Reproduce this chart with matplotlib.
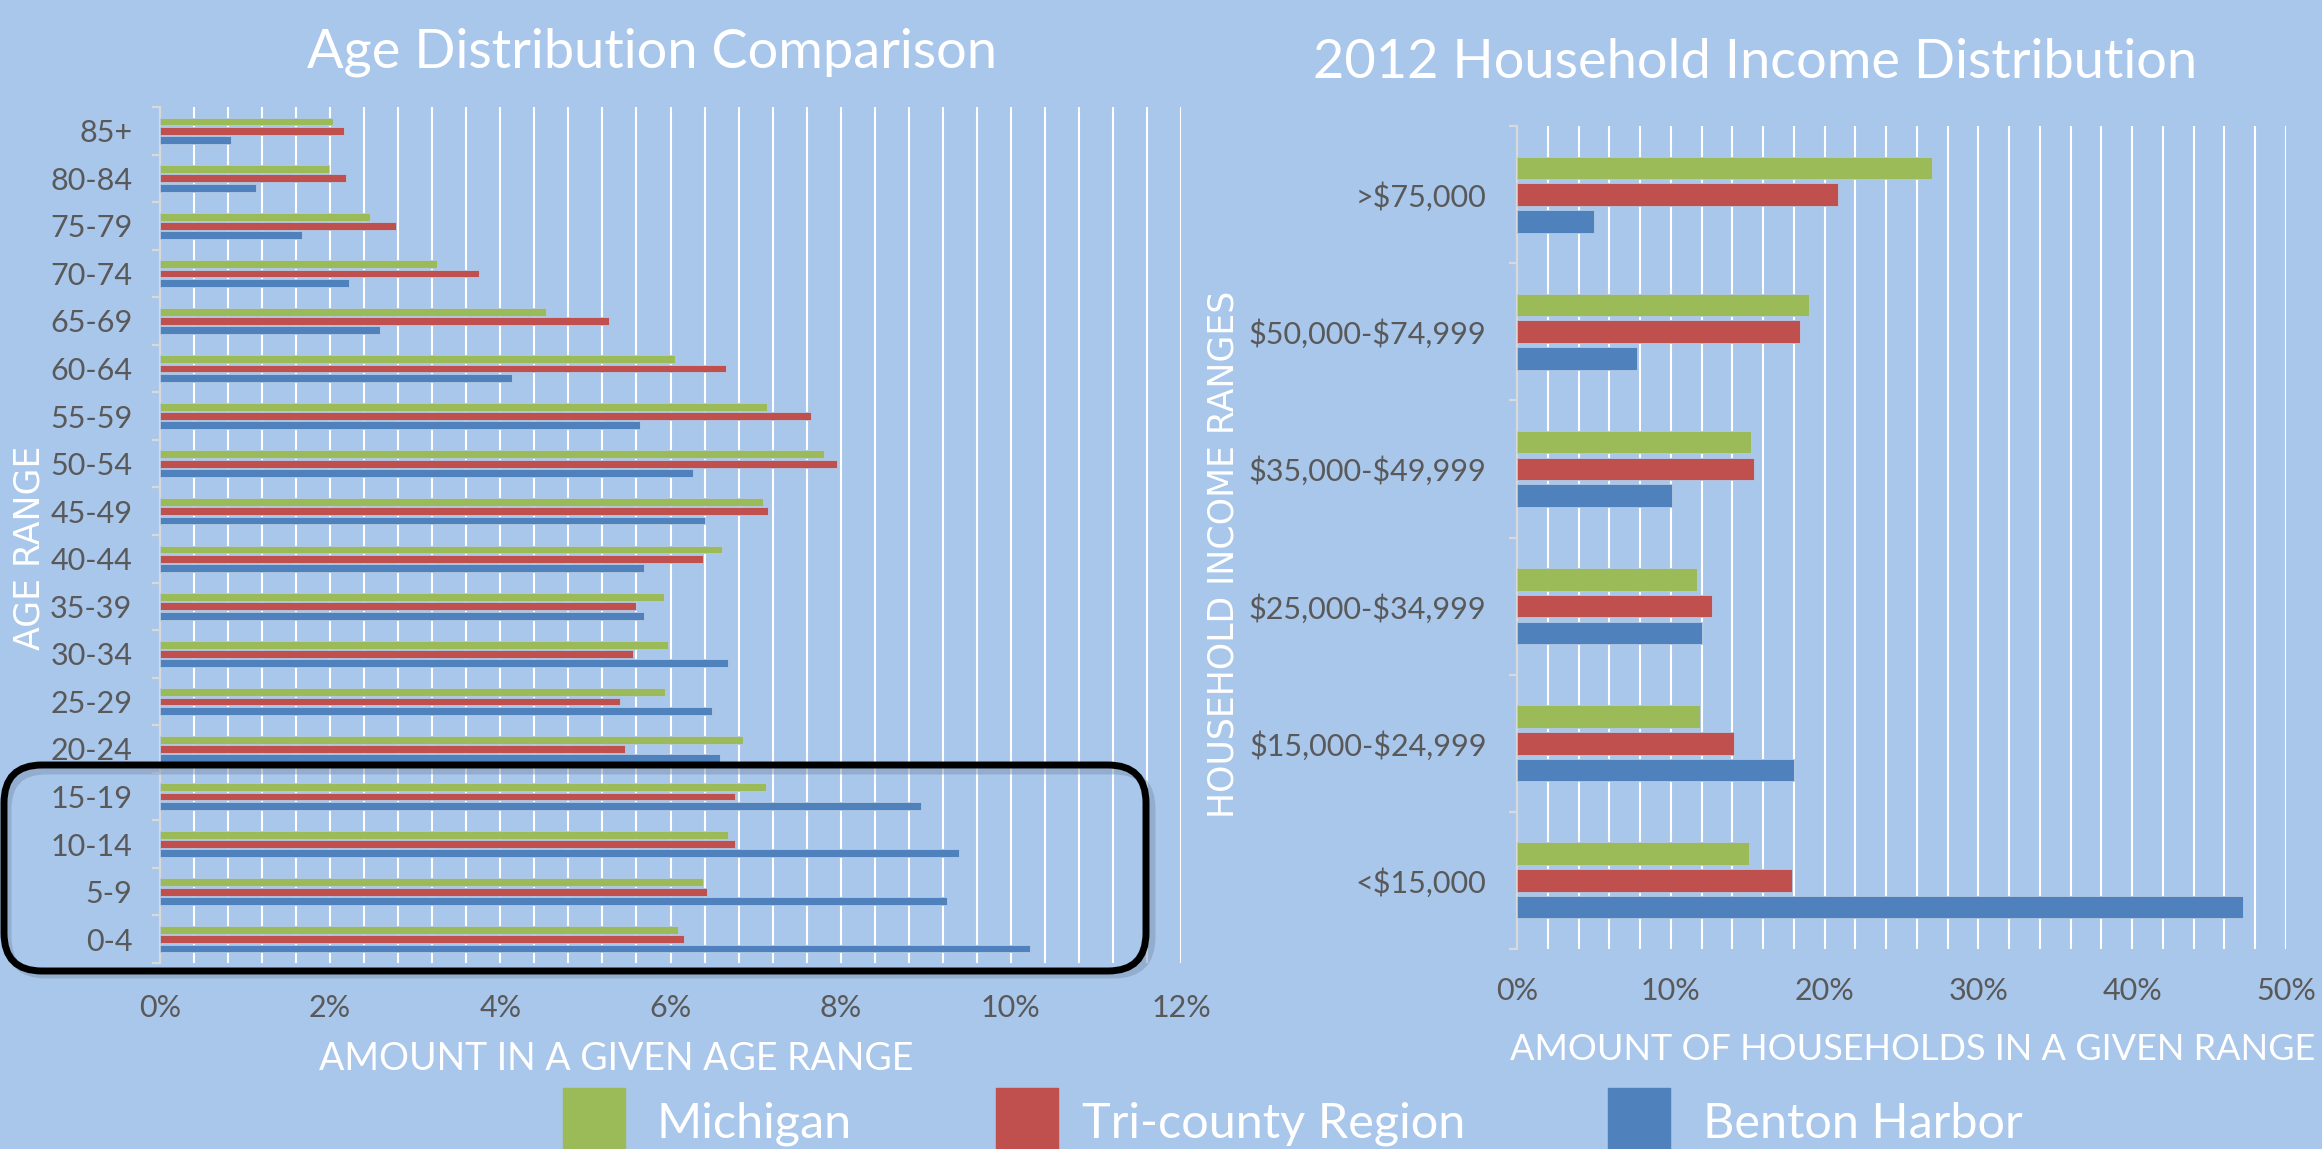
import numpy as np
import matplotlib
matplotlib.use('Agg')
import matplotlib.pyplot as plt
from matplotlib.patches import FancyBboxPatch, Rectangle
from matplotlib.transforms import IdentityTransform
from matplotlib.ticker import MultipleLocator, FuncFormatter

plt.rcParams['font.family'] = ['Lato', 'DejaVu Sans']

# Age chart (percent)
age_groups = ['85+', '80-84', '75-79', '70-74', '65-69', '60-64', '55-59', '50-54', '45-49',
              '40-44', '35-39', '30-34', '25-29', '20-24', '15-19', '10-14', '5-9', '0-4']
age_michigan = [2.03, 1.99, 2.47, 3.26, 4.54, 6.05, 7.13, 7.80, 7.09, 6.61, 5.92, 5.97, 5.94, 6.85, 7.12, 6.68, 6.38, 6.09]
age_tricounty = [2.16, 2.19, 2.77, 3.75, 5.28, 6.65, 7.65, 7.96, 7.15, 6.38, 5.59, 5.56, 5.41, 5.47, 6.76, 6.76, 6.43, 6.16]
age_benton = [0.83, 1.13, 1.67, 2.22, 2.59, 4.14, 5.64, 6.27, 6.41, 5.69, 5.69, 6.67, 6.49, 6.58, 8.94, 9.39, 9.25, 10.23]

# Income chart (percent)
income_groups = ['>\\$75,000', '\\$50,000-\\$74,999', '\\$35,000-\\$49,999', '\\$25,000-\\$34,999',
                 '\\$15,000-\\$24,999', '<\\$15,000']
inc_michigan = [27.0, 19.0, 15.2, 11.7, 11.9, 15.1]
inc_tricounty = [20.9, 18.4, 15.4, 12.7, 14.1, 17.9]
inc_benton = [5.0, 7.8, 10.1, 12.0, 18.0, 47.2]

series_names = ['Michigan', 'Tri-county Region', 'Benton Harbor']
colors = ['#9BBB59', '#C0504D', '#4F81BD']
bg = '#A9C6EB'
tick_col = '#595959'

W, H = 2322, 1149
fig = plt.figure(figsize=(W / 100, H / 100), dpi=100)
fig.patch.set_facecolor(bg)


def bar_panel(ax, cats, vals, xmax, grid_step, major_step, pad_y, pad_x):
    ax.set_facecolor(bg)
    y = np.arange(len(cats))
    pitch, h = 0.195, 0.165
    for k, (v, c) in enumerate(zip(vals, colors)):
        ax.barh(y + (k - 1) * pitch, v, height=h, color=c, edgecolor='#B4C9E6',
                linewidth=0.6, zorder=3)
    ax.set_ylim(len(cats) - 0.5, -0.5)
    ax.set_xlim(0, xmax)
    for gx in np.arange(grid_step, xmax + 1e-6, grid_step):
        ax.axvline(gx, color='white', lw=1.5, zorder=1)
    for s in ['top', 'right', 'bottom']:
        ax.spines[s].set_visible(False)
    ax.spines['left'].set_color('#D9D9D9')
    ax.spines['left'].set_linewidth(1.6)
    ax.set_yticks(y)
    ax.set_yticklabels(cats)
    ax.set_yticks(np.arange(-0.5, len(cats), 1), minor=True)
    ax.tick_params(axis='y', which='major', length=0, pad=pad_y, labelsize=22, labelcolor=tick_col)
    ax.tick_params(axis='y', which='minor', length=6, width=1.6, color='#D9D9D9', direction='out')
    ax.xaxis.set_major_locator(MultipleLocator(major_step))
    ax.xaxis.set_major_formatter(FuncFormatter(lambda v, p: '%d%%' % round(v)))
    ax.tick_params(axis='x', length=0, pad=pad_x, labelsize=22, labelcolor=tick_col)


# left panel
ax1 = fig.add_axes([160 / W, 1 - 963 / H, 1021 / W, 856 / H])
bar_panel(ax1, age_groups, [age_michigan, age_tricounty, age_benton], 12, 0.4, 2, 20, 22)
fig.text(652 / W, 1 - 52 / H, 'Age Distribution Comparison', color='white', fontsize=39,
         ha='center', va='center')
fig.text(616 / W, 1 - 1059 / H, 'AMOUNT IN A GIVEN AGE RANGE', color='white', fontsize=27,
         ha='center', va='center')
fig.text(30 / W, 1 - 548 / H, 'AGE RANGE', color='white', fontsize=25, rotation=90,
         ha='center', va='center', family='DejaVu Sans')

# right panel
ax2 = fig.add_axes([1517 / W, 1 - 949 / H, 769 / W, 823 / H])
bar_panel(ax2, income_groups, [inc_michigan, inc_tricounty, inc_benton], 50, 2, 10, 22, 20)
fig.text(1755 / W, 1 - 62 / H, '2012 Household Income Distribution', color='white', fontsize=39,
         ha='center', va='center')
fig.text(1913 / W, 1 - 1050 / H, 'AMOUNT OF HOUSEHOLDS IN A GIVEN RANGE', color='white',
         fontsize=26, ha='center', va='center')
fig.text(1223 / W, 1 - 554 / H, 'HOUSEHOLD INCOME RANGES', color='white', fontsize=25,
         rotation=90, ha='center', va='center', family='DejaVu Sans')

# highlight box around the youngest age groups (pixel coords)
shadow = FancyBboxPatch((8, H - 975), 1144, 204, boxstyle='round,pad=0,rounding_size=38',
                        transform=IdentityTransform(), fill=False, lw=5, ec='#7F95B3',
                        alpha=0.5, zorder=9)
fig.add_artist(shadow)
box = FancyBboxPatch((4, H - 971), 1142, 206, boxstyle='round,pad=0,rounding_size=38',
                     transform=IdentityTransform(), fill=False, lw=5, ec='black', zorder=10)
fig.add_artist(box)

# legend
leg_x = [563, 996, 1608]
txt_x = [656, 1082, 1703]
for lx, tx, c, name in zip(leg_x, txt_x, colors, series_names):
    fig.add_artist(Rectangle((lx / W, 0), 62 / W, (H - 1088) / H, transform=fig.transFigure,
                             color=c))
    fig.text(tx / W, 1 - 1124 / H, name, color='white', fontsize=35, ha='left', va='center')

fig.savefig('out.png', dpi=100, facecolor=bg)
